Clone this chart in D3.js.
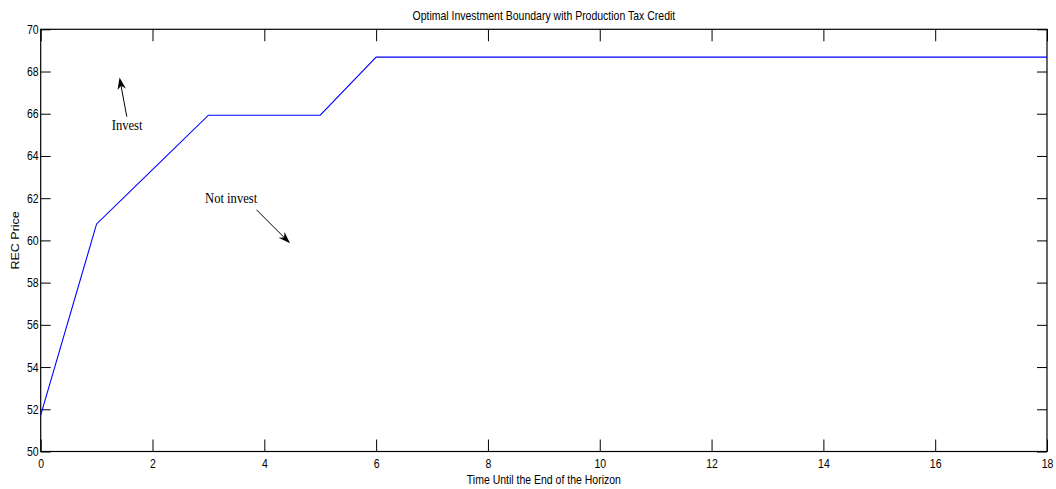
<!DOCTYPE html>
<html>
<head>
<meta charset="utf-8">
<script src="https://cdn.jsdelivr.net/npm/d3@7"></script>
<style>
  html, body { margin: 0; padding: 0; background: #fff; }
  svg { display: block; }
  .sans { font-family: "Liberation Sans", Arial, Helvetica, sans-serif; fill: #000; }
  .serif { font-family: "Liberation Serif", "Times New Roman", serif; fill: #000; }
</style>
</head>
<body>
<svg id="chart" width="1056" height="489"></svg>
<script>
// Boundary: years remaining until horizon end vs. REC price threshold
const years = [0, 1, 2, 3, 5, 6, 18];
const boundaryPrice = [51.72, 60.78, 63.35, 65.93, 65.93, 68.68, 68.68];

const xTicks = [0, 2, 4, 6, 8, 10, 12, 14, 16, 18];
const yTicks = [50, 52, 54, 56, 58, 60, 62, 64, 66, 68, 70];

const titleText = "Optimal Investment Boundary with Production Tax Credit";
const xLabelText = "Time Until the End of the Horizon";
const yLabelText = "REC Price";

// Region annotations: label anchor and arrow tail -> tip, in data units
const annotations = [
  { text: "Invest", at: [1.27, 65.22], from: [1.54, 65.86], to: [1.41, 67.72] },
  { text: "Not invest", at: [2.94, 61.78], from: [3.86, 61.45], to: [4.46, 59.86] }
];

const W = 1056, H = 489;
const margin = { left: 40.7, top: 29.3, right: 9, bottom: 37.5 };
const iw = W - margin.left - margin.right;
const ih = H - margin.top - margin.bottom;
const squeeze = 0.84;

const svg = d3.select("#chart");
const g = svg.append("g").attr("transform", `translate(${margin.left},${margin.top})`);

const x = d3.scaleLinear().domain([0, 18]).range([0, iw]);
const y = d3.scaleLinear().domain([50, 70]).range([ih, 0]);

// frame
g.append("rect")
  .attr("x", 0).attr("y", 0).attr("width", iw).attr("height", ih)
  .attr("fill", "none").attr("stroke", "#000").attr("stroke-width", 1.2);

function styleAxis(sel) {
  sel.select(".domain").remove();
  sel.selectAll(".tick line").attr("stroke", "#000").attr("stroke-width", 1);
}

// bottom axis with inward ticks
const xAxis = g.append("g").attr("transform", `translate(0,${ih})`)
  .call(d3.axisBottom(x).tickValues(xTicks).tickSize(-12).tickPadding(7.5).tickFormat(d3.format("d")));
styleAxis(xAxis);
xAxis.selectAll(".tick text")
  .attr("class", "sans").attr("font-size", 12.5)
  .attr("transform", `scale(${squeeze},1)`);

// top mirrored ticks
const xTop = g.append("g")
  .call(d3.axisTop(x).tickValues(xTicks).tickSize(-12).tickFormat(""));
styleAxis(xTop);

// left axis
const yAxis = g.append("g")
  .call(d3.axisLeft(y).tickValues(yTicks).tickSize(-10).tickPadding(2.5).tickFormat(d3.format("d")));
styleAxis(yAxis);
yAxis.selectAll(".tick text")
  .attr("class", "sans").attr("font-size", 12.5)
  .attr("transform", `scale(${squeeze},1)`);

// right mirrored ticks
const yRight = g.append("g").attr("transform", `translate(${iw},0)`)
  .call(d3.axisRight(y).tickValues(yTicks).tickSize(-10).tickFormat(""));
styleAxis(yRight);

// boundary line
const line = d3.line().x((d, i) => x(years[i])).y(d => y(d));
g.append("path")
  .datum(boundaryPrice)
  .attr("d", line)
  .attr("fill", "none")
  .attr("stroke", "#0000ff")
  .attr("stroke-width", 1.1);

// annotations
function arrowHead(x1, y1, x2, y2, len, half) {
  const a = Math.atan2(y2 - y1, x2 - x1);
  const bx = x2 - len * Math.cos(a), by = y2 - len * Math.sin(a);
  const nx = -Math.sin(a), ny = Math.cos(a);
  const mx = x2 - len * 0.7 * Math.cos(a), my = y2 - len * 0.7 * Math.sin(a);
  return `M${x2},${y2}L${bx + nx * half},${by + ny * half}L${mx},${my}L${bx - nx * half},${by - ny * half}Z`;
}

annotations.forEach(a => {
  const tx = x(a.at[0]), ty = y(a.at[1]);
  g.append("text")
    .attr("class", "serif")
    .attr("font-size", 15)
    .attr("transform", `translate(${tx},${ty}) scale(${squeeze},1)`)
    .text(a.text);
  const x1 = x(a.from[0]), y1 = y(a.from[1]), x2 = x(a.to[0]), y2 = y(a.to[1]);
  const ang = Math.atan2(y2 - y1, x2 - x1);
  g.append("line")
    .attr("x1", x1).attr("y1", y1)
    .attr("x2", x2 - 8 * Math.cos(ang)).attr("y2", y2 - 8 * Math.sin(ang))
    .attr("stroke", "#000").attr("stroke-width", 1);
  g.append("path")
    .attr("d", arrowHead(x1, y1, x2, y2, 12, 4.2))
    .attr("fill", "#000");
});

// title and axis labels
svg.append("text")
  .attr("class", "sans").attr("font-size", 12.5).attr("text-anchor", "middle")
  .attr("transform", `translate(${margin.left + iw / 2},20) scale(${squeeze},1)`)
  .text(titleText);

svg.append("text")
  .attr("class", "sans").attr("font-size", 12.5).attr("text-anchor", "middle")
  .attr("transform", `translate(${margin.left + iw / 2},483.5) scale(${squeeze},1)`)
  .text(xLabelText);

svg.append("text")
  .attr("class", "sans").attr("font-size", 12.5).attr("text-anchor", "middle")
  .attr("transform", `translate(19.3,${margin.top + ih / 2}) rotate(-90) scale(1,${squeeze})`)
  .text(yLabelText);
</script>
</body>
</html>
